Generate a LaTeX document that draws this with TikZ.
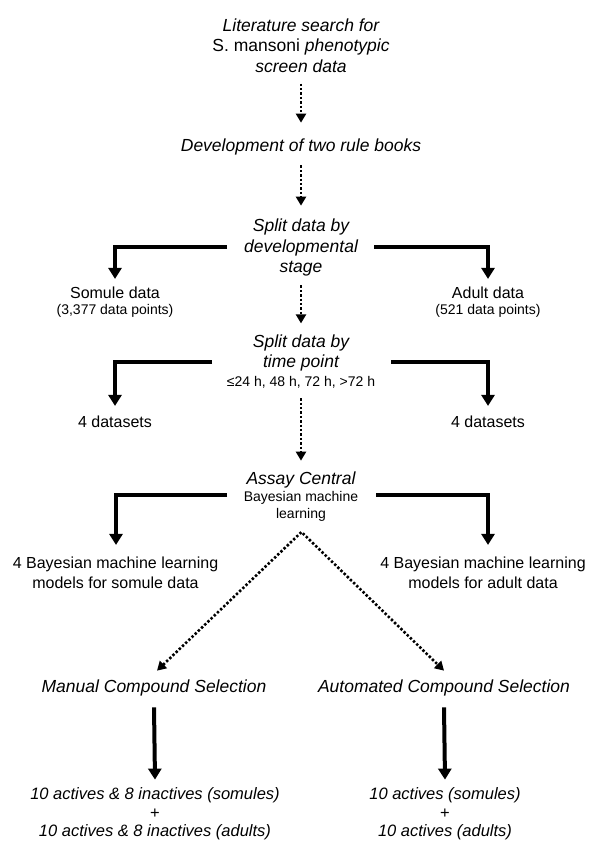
\documentclass[tikz,border=0pt]{standalone}
\usepackage{fontspec}
\setmainfont{Liberation Sans}
\usetikzlibrary{arrows.meta}
\begin{document}
\begin{tikzpicture}[x=1pt,y=-1pt,
 head/.style={font=\fontsize{17.5}{20.5}\selectfont\itshape, align=center, inner sep=0pt},
 body/.style={font=\fontsize{16}{20}\selectfont, align=center, inner sep=0pt},
 small/.style={font=\fontsize{14}{17}\selectfont, align=center, inner sep=0pt},
 res/.style={font=\fontsize{16.5}{18.5}\selectfont\itshape, align=center, inner sep=0pt},
 dotarr/.style={line width=2.6pt, dash pattern=on 2.4pt off 2pt, -{Triangle[width=10pt,length=9pt]}},
 dotboth/.style={line width=2.6pt, dash pattern=on 2.4pt off 2pt, {Triangle[width=10pt,length=9pt]}-{Triangle[width=10pt,length=9pt]}},
 bigarr/.style={line width=4pt, -{Triangle[width=13pt,length=11pt]}},
]
\useasboundingbox (0,0) rectangle (591,842);
\fill[white] (0,0) rectangle (591,842);

% nodes
\node[head] (lit) at (301,45.5) {Literature search for\\{\upshape S. mansoni} phenotypic\\screen data};
\node[head] (dev) at (301,147) {Development of two rule books};
\node[head] (split1) at (301,247.5) {Split data by\\developmental\\stage};
\node[body] (somule) at (115,293) {Somule data};
\node[small] (somulen) at (115,311) {(3,377 data points)};
\node[body] (adult) at (488,293) {Adult data};
\node[small] (adultn) at (488,311) {(521 data points)};
\node[head] (split2) at (301,353) {Split data by\\time point};
\node[small] (split2s) at (301,382) {≤24 h, 48 h, 72 h, >72 h};
\node[body] (dsL) at (115,422) {4 datasets};
\node[body] (dsR) at (488,422) {4 datasets};
\node[head] (assay) at (301,480) {Assay Central};
\node[small] (assays) at (301,506.5) {Bayesian machine\\learning};
\node[body] (modL) at (115.5,573) {4 Bayesian machine learning\\models for somule data};
\node[body] (modR) at (483,573) {4 Bayesian machine learning\\models for adult data};
\node[head] (manual) at (154,688) {Manual Compound Selection};
\node[head] (auto) at (444,688) {Automated Compound Selection};
\node[res] (resL) at (155,814) {10 actives \& 8 inactives (somules)\\{\upshape +}\\10 actives \& 8 inactives (adults)};
\node[res] (resR) at (445,814) {10 actives (somules)\\{\upshape +}\\10 actives (adults)};

% bracket start points
\coordinate (b1l) at (227,247);
\coordinate (b1r) at (374,247);
\coordinate (b2l) at (212,362);
\coordinate (b2r) at (391,362);
\coordinate (b3l) at (227,495);
\coordinate (b3r) at (376,495);
\coordinate (apex) at (301.5,532);

% dotted connectors
\draw[dotarr] ([yshift=-11pt]lit.south) -- ([yshift=16pt]dev.north);
\draw[dotarr] ([yshift=-10pt]dev.south) -- ([yshift=13pt]split1.north);
\draw[dotarr] ([yshift=-9pt]split1.south) -- ([yshift=11pt]split2.north);
\draw[dotarr] ([yshift=-10pt]split2s.south) -- ([yshift=11pt]assay.north);
\draw[dotboth] ([xshift=3pt,yshift=9pt]manual.north) -- (apex) -- ([xshift=0pt,yshift=9pt]auto.north);

% bracket arrows
\draw[bigarr] (b1l) -| ([yshift=8pt]somule.north);
\draw[bigarr] (b1r) -| ([yshift=8pt]adult.north);
\draw[bigarr] (b2l) -| ([yshift=10pt]dsL.north);
\draw[bigarr] (b2r) -| ([yshift=10pt]dsR.north);
\draw[bigarr] (b3l) -| ([xshift=0.5pt,yshift=12pt]modL.north);
\draw[bigarr] (b3r) -| ([xshift=5pt,yshift=12pt]modR.north);

% solid arrows
\draw[bigarr] ([yshift=-11pt]manual.south) -- ([yshift=8pt]resL.north);
\draw[bigarr] ([yshift=-11pt]auto.south) -- ([yshift=8pt]resR.north);
\end{tikzpicture}
\end{document}
